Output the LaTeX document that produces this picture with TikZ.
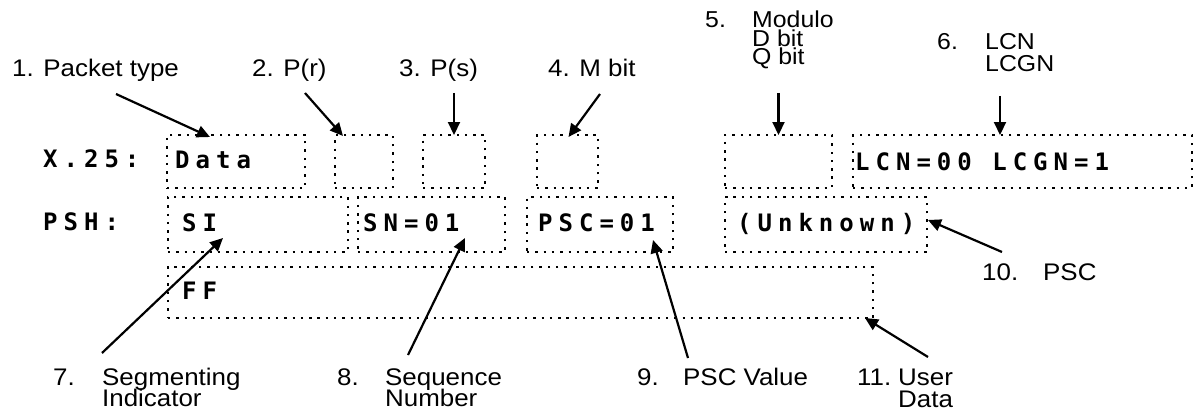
\documentclass[tikz,border=0pt]{standalone}
\usepackage{fontspec}
\setmainfont{Liberation Sans}
\newfontfamily\labfont[FakeStretch=1.08]{Liberation Sans}
\newfontfamily\monofont[LetterSpace=25]{DejaVu Sans Mono}
\usetikzlibrary{arrows.meta,calc}
\begin{document}
\begin{tikzpicture}[x=1pt,y=-1pt,
  fld/.style={draw, line width=2.4pt, dash pattern=on 2.4pt off 5.9pt,
    anchor=north west, inner sep=0pt, outer sep=0pt},
  lab/.style={anchor=base west, inner sep=0pt,
    font=\labfont\fontsize{24}{24}\selectfont},
  modlab/.style={anchor=base west, inner sep=0pt,
    font=\labfont\fontsize{23}{23}\selectfont},
  mono/.style={anchor=base west, inner sep=0pt,
    font=\monofont\bfseries\fontsize{24}{24}\selectfont},
  arr/.style={line width=2.2pt, -{Triangle[length=13pt,width=12pt]}},
]
\useasboundingbox (0,0) rectangle (1195,412);

% field boxes
\node[fld, minimum width=138pt, minimum height=53pt] (data) at (167,135) {};
\node[fld, minimum width=58pt,  minimum height=53pt] (pr)   at (335,135) {};
\node[fld, minimum width=62pt,  minimum height=53pt] (ps)   at (423,135) {};
\node[fld, minimum width=61pt,  minimum height=53pt] (mb)   at (537,135) {};
\node[fld, minimum width=107pt, minimum height=53pt] (mod)  at (725,135) {};
\node[fld, minimum width=339pt, minimum height=53pt] (lcn)  at (853,135) {};
\node[fld, minimum width=180pt, minimum height=55pt] (si)   at (168,197) {};
\node[fld, minimum width=147pt, minimum height=55pt] (sn)   at (358,197) {};
\node[fld, minimum width=146pt, minimum height=55pt] (psc)  at (527,197) {};
\node[fld, minimum width=202pt, minimum height=55pt] (unk)  at (725,197) {};
\node[fld, minimum width=705pt, minimum height=51pt] (ff)   at (168,267) {};

% monospaced texts
\node[mono] (x25t) at (43,167) {X.25:};
\node[mono] (psht) at (43,230) {PSH:};
\node[mono] (datat) at (175,168) {Data};
\node[mono] (lcnt) at (855,170) {LCN=00 LCGN=1};
\node[mono] (sit) at (182,231) {SI};
\node[mono] (snt) at (363,231) {SN=01};
\node[mono] (psct) at (538,231) {PSC=01};
\node[mono] (unkt) at (737,231) {(Unknown)};
\node[mono] (fft) at (182,299) {FF};

% labels
\node[lab] (l1) at (12,77) {1. Packet type};
\node[lab] (l2) at (252,77) {2. P(r)};
\node[lab] (l3) at (399,77) {3. P(s)};
\node[lab] (l4) at (548,77) {4. M bit};
\node[modlab] (l5n) at (705,28) {5.};
\node[modlab] (l5a) at (752,28) {Modulo};
\node[modlab] (l5b) at (752,46.5) {D bit};
\node[modlab] (l5c) at (752,65) {Q bit};
\node[modlab] (l6n) at (937,50) {6.};
\node[modlab] (l6a) at (985,50) {LCN};
\node[modlab] (l6b) at (985,72) {LCGN};
\node[lab] (l7n) at (53,385) {7.};
\node[lab] (l7a) at (102,385) {Segmenting};
\node[lab] (l7b) at (102,406) {Indicator};
\node[lab] (l8n) at (337,385) {8.};
\node[lab] (l8a) at (385,385) {Sequence};
\node[lab] (l8b) at (385,406) {Number};
\node[lab] (l9n) at (637,385) {9.};
\node[lab] (l9) at (683,385) {PSC Value};
\node[lab] (l10n) at (982,280) {10.};
\node[lab] (l10) at (1043,280) {PSC};
\node[lab] (l11n) at (857,385) {11.};
\node[lab] (l11a) at (898,385) {User};
\node[lab] (l11b) at (898,407) {Data};

% arrow start points
\coordinate (s1) at (116,94);
\coordinate (s2) at (305,93);
\coordinate (s3) at (454,93);
\coordinate (s4) at (600,94);
\coordinate (s5) at (778.5,93);
\coordinate (s6) at (1000,96);
\coordinate (s7) at (102,353);
\coordinate (s8) at (408,355);
\coordinate (s9) at (688,358);
\coordinate (s10) at (1002,252);
\coordinate (s11) at (928,357);

% arrows
\draw[arr] (s1) -- ($(data.north west)+(43,2)$);
\draw[arr] (s2) -- ($(pr.north west)+(8,1)$);
\draw[arr] (s3) -- (ps.north);
\draw[arr] (s4) -- ($(mb.north)+(1,2)$);
\draw[arr] (s5) -- (mod.north);
\draw[arr] (s6) -- ($(lcn.north west)+(147,0)$);
\draw[arr] (s7) -- ($(si.north west)+(55,41)$);
\draw[arr] (s8) -- ($(sn.north west)+(107,41)$);
\draw[arr] (s9) -- ($(psc.north west)+(126,43)$);
\draw[arr] (s10) -- ($(unk.east)+(1,-4.5)$);
\draw[arr] (s11) -- ($(ff.south east)+(-8,0)$);
\end{tikzpicture}
\end{document}
